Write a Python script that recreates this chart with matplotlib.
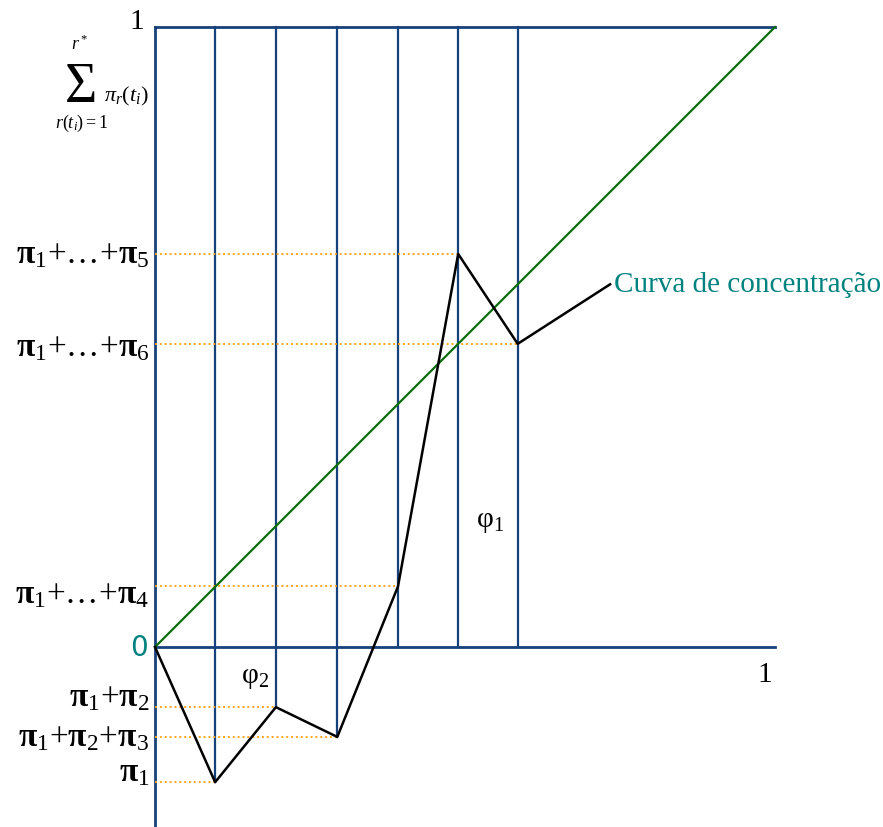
import matplotlib
matplotlib.use('Agg')
import matplotlib.pyplot as plt

plt.rcParams['font.family'] = 'Liberation Serif'
plt.rcParams['mathtext.fontset'] = 'custom'
plt.rcParams['mathtext.rm'] = 'Liberation Serif'
plt.rcParams['mathtext.it'] = 'Liberation Serif:italic'
plt.rcParams['mathtext.bf'] = 'Liberation Serif:bold'

# group boundaries on the x axis (cumulative population share)
group_x = [0.097, 0.195, 0.294, 0.392, 0.489, 0.585]
# cumulative sums pi_1 + ... + pi_k
cum_share = [-0.218, -0.097, -0.145, 0.098, 0.634, 0.489]
P = r'\mathbf{π}'
tick_labels = ['$' + P + '_1$',
               '$' + P + '_1{+}' + P + '_2$',
               '$' + P + '_1{+}' + P + '_2{+}' + P + '_3$',
               '$' + P + r'_1{+}\mathrm{…}{+}' + P + '_4$',
               '$' + P + r'_1{+}\mathrm{…}{+}' + P + '_5$',
               '$' + P + r'_1{+}\mathrm{…}{+}' + P + '_6$']
# small vertical nudges of the labels (pixels), as in the original drawing
label_nudge = [10, 10, 0, -8, 0, -3]
leader_end = (0.734, 0.585)

navy = '#17417a'
green = '#0a6e0a'
orange = '#ffa51f'
teal = '#00827f'

fig = plt.figure(figsize=(8.83, 8.28), dpi=100)
ax = fig.add_axes([0, 0, 1, 1])
ax.set_xlim(-0.25, 1.1742)
ax.set_ylim(-0.2903, 1.0452)
ax.axis('off')

# frame: y axis, x axis, top line
ax.plot([0, 0], [-0.2903, 1], color=navy, lw=2)
ax.plot([0, 1], [0, 0], color=navy, lw=2)
ax.plot([0, 1], [1, 1], color=navy, lw=2)

# vertical group lines
for gx, cy in zip(group_x, cum_share):
    ax.plot([gx, gx], [min(0, cy), 1], color=navy, lw=1.6)

# dotted reference lines
for gx, cy in zip(group_x, cum_share):
    ax.plot([0, gx], [cy, cy], color=orange, lw=1.4, ls=(0, (1, 1.5)))

# equality line
ax.plot([0, 1], [0, 1], color=green, lw=1.6)

# concentration curve
xs = [0] + group_x + [leader_end[0]]
ys = [0] + cum_share + [leader_end[1]]
ax.plot(xs, ys, color='black', lw=1.8)

# y labels
for cy, lab, dy in zip(cum_share, tick_labels, label_nudge):
    ax.annotate(lab, (0, cy), xytext=(-4, dy * 0.72), textcoords='offset points',
                ha='right', va='center', fontsize=24)

ax.text(-0.012, 0, '0', color=teal, fontsize=20, family='DejaVu Sans',
        ha='right', va='center')
ax.text(-0.03, 1.01, '1', fontsize=21, ha='center', va='center')
ax.text(0.984, -0.043, '1', fontsize=21, ha='center', va='center')

# summation label built from pieces
ax.text(-0.119, 0.904, 'Σ', fontsize=40, ha='center', va='center')
ax.text(-0.122, 0.974, '$r^*$', fontsize=13, ha='center', va='center')
ax.text(-0.119, 0.846, '$r(t_i){=}1$', fontsize=13, ha='center', va='center')
ax.text(-0.082, 0.889, r'$\pi_r(t_i)$', fontsize=16, ha='left', va='center')

ax.text(0.54, 0.203, r'$\mathregular{φ_1}$', fontsize=21, ha='center', va='center')
ax.text(0.162, -0.048, r'$\mathregular{φ_2}$', fontsize=21, ha='center', va='center')

ax.text(0.74, 0.585, 'Curva de concentração', color=teal, fontsize=21,
        ha='left', va='center')

fig.savefig('out.png', dpi=100)
